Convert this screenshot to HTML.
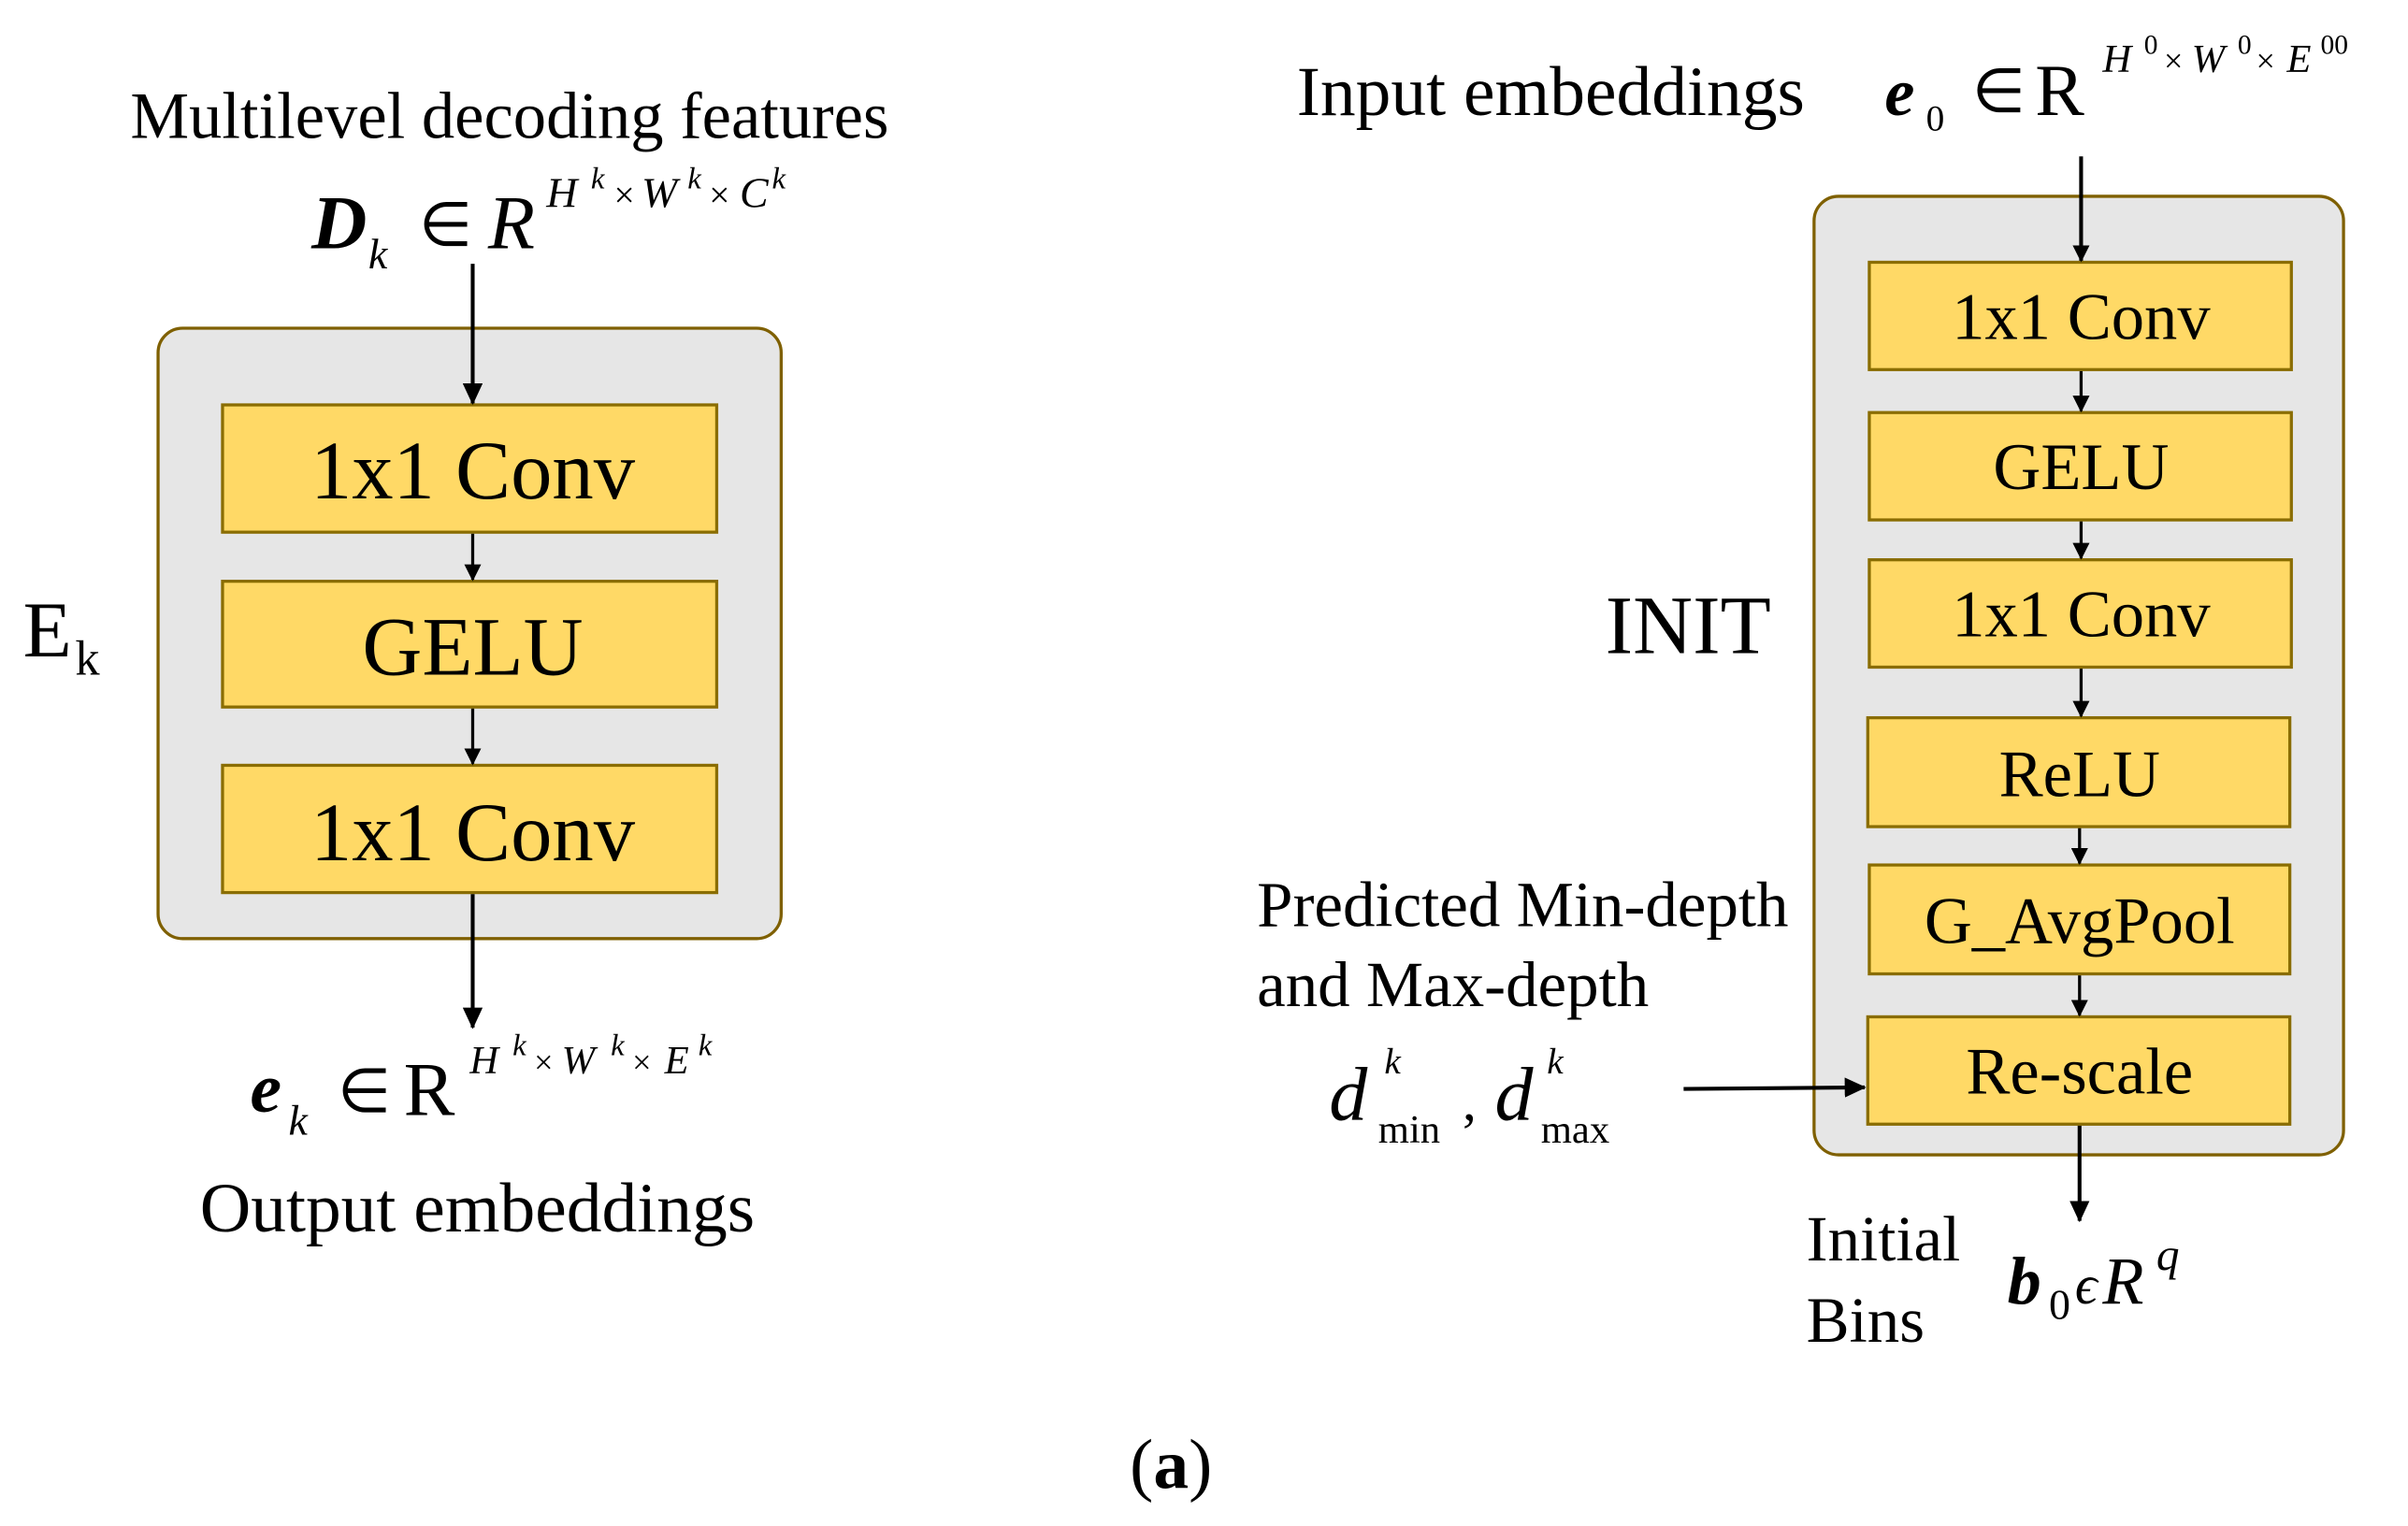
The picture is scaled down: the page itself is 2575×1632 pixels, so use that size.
<!DOCTYPE html>
<html><head><meta charset="utf-8"><style>
html,body{margin:0;padding:0;background:#fff;}
svg{display:block;}
text{font-family:"Liberation Serif",serif;fill:#000;}
</style></head><body>
<svg width="2575" height="1632" viewBox="0 0 1569 995" preserveAspectRatio="none" xmlns="http://www.w3.org/2000/svg">
<defs>
<marker id="ah" markerWidth="11" markerHeight="11" refX="10" refY="5.5" orient="auto" markerUnits="userSpaceOnUse">
<path d="M0,0 L11,5.5 L0,11 z" fill="#000"/>
</marker>
<marker id="ah2" markerWidth="14" markerHeight="13" refX="13" refY="6.5" orient="auto" markerUnits="userSpaceOnUse">
<path d="M0,0 L14,6.5 L0,13 z" fill="#000"/>
</marker>
</defs>

<!-- LEFT PANEL -->
<text x="332" y="90" font-size="43" text-anchor="middle">Multilevel decoding features</text>
<text x="203" y="162" font-size="50" font-style="italic" font-weight="bold">D</text>
<text x="240" y="175" font-size="28" font-style="italic">k</text>
<text x="273" y="160" font-size="40">∈</text>
<text x="318" y="162" font-size="50" font-style="italic">R</text>
<text x="356" y="135" font-size="28" font-style="italic">H</text>
<text x="385" y="123" font-size="20" font-style="italic">k</text>
<text x="400" y="135" font-size="24">×</text>
<text x="418" y="135" font-size="28" font-style="italic">W</text>
<text x="448" y="123" font-size="20" font-style="italic">k</text>
<text x="462" y="135" font-size="24">×</text>
<text x="482" y="135" font-size="28" font-style="italic">C</text>
<text x="503" y="123" font-size="20" font-style="italic">k</text>

<rect x="103" y="214" width="406" height="398" rx="16" fill="#e6e6e6" stroke="#7f6000" stroke-width="2"/>
<rect x="145" y="264" width="322" height="83" fill="#ffd966" stroke="#8a6d00" stroke-width="2"/>
<rect x="145" y="379" width="322" height="82" fill="#ffd966" stroke="#8a6d00" stroke-width="2"/>
<rect x="145" y="499" width="322" height="83" fill="#ffd966" stroke="#8a6d00" stroke-width="2"/>
<text x="308" y="325" font-size="54" text-anchor="middle">1x1 Conv</text>
<text x="308" y="440" font-size="54" text-anchor="middle">GELU</text>
<text x="308" y="561" font-size="54" text-anchor="middle">1x1 Conv</text>
<line x1="308" y1="172" x2="308" y2="263" stroke="#000" stroke-width="2.5" marker-end="url(#ah2)"/>
<line x1="308" y1="348" x2="308" y2="378" stroke="#000" stroke-width="2" marker-end="url(#ah)"/>
<line x1="308" y1="462" x2="308" y2="498" stroke="#000" stroke-width="2" marker-end="url(#ah)"/>
<line x1="308" y1="583" x2="308" y2="670" stroke="#000" stroke-width="2.5" marker-end="url(#ah2)"/>

<text x="15" y="428" font-size="52">E</text>
<text x="49" y="440" font-size="32">k</text>

<text x="163" y="725" font-size="46" font-style="italic" font-weight="bold">e</text>
<text x="188" y="740" font-size="28" font-style="italic">k</text>
<text x="220" y="725" font-size="40">∈</text>
<text x="263" y="727" font-size="50">R</text>
<text x="306" y="700" font-size="26" font-style="italic">H</text>
<text x="334" y="688" font-size="20" font-style="italic">k</text>
<text x="348" y="700" font-size="22">×</text>
<text x="366" y="700" font-size="26" font-style="italic">W</text>
<text x="398" y="688" font-size="20" font-style="italic">k</text>
<text x="412" y="700" font-size="22">×</text>
<text x="433" y="700" font-size="26" font-style="italic">E</text>
<text x="455" y="688" font-size="20" font-style="italic">k</text>

<text x="311" y="803" font-size="46" text-anchor="middle">Output embeddings</text>

<!-- RIGHT PANEL -->
<text x="845" y="75" font-size="46">Input embeddings</text>
<text x="1228" y="75" font-size="44" font-style="italic" font-weight="bold">e</text>
<text x="1255" y="85" font-size="24">0</text>
<text x="1285" y="73" font-size="40">∈</text>
<text x="1326" y="75" font-size="48">R</text>
<text x="1370" y="47" font-size="26" font-style="italic">H</text>
<text x="1397" y="35" font-size="18">0</text>
<text x="1410" y="47" font-size="22">×</text>
<text x="1428" y="47" font-size="26" font-style="italic">W</text>
<text x="1458" y="35" font-size="18">0</text>
<text x="1470" y="47" font-size="22">×</text>
<text x="1490" y="47" font-size="26" font-style="italic">E</text>
<text x="1512" y="35" font-size="18">00</text>

<rect x="1182" y="128" width="345" height="625" rx="16" fill="#e6e6e6" stroke="#7f6000" stroke-width="2"/>

<rect x="1218" y="171" width="275" height="70" fill="#ffd966" stroke="#8a6d00" stroke-width="2"/>
<rect x="1218" y="269" width="275" height="70" fill="#ffd966" stroke="#8a6d00" stroke-width="2"/>
<rect x="1218" y="365" width="275" height="70" fill="#ffd966" stroke="#8a6d00" stroke-width="2"/>
<rect x="1217" y="468" width="275" height="71" fill="#ffd966" stroke="#8a6d00" stroke-width="2"/>
<rect x="1218" y="564" width="274" height="71" fill="#ffd966" stroke="#8a6d00" stroke-width="2"/>
<rect x="1217" y="663" width="275" height="70" fill="#ffd966" stroke="#8a6d00" stroke-width="2"/>
<text x="1356" y="221" font-size="43" text-anchor="middle">1x1 Conv</text>
<text x="1356" y="319" font-size="43" text-anchor="middle">GELU</text>
<text x="1356" y="415" font-size="43" text-anchor="middle">1x1 Conv</text>
<text x="1355" y="519" font-size="43" text-anchor="middle">ReLU</text>
<text x="1355" y="615" font-size="43" text-anchor="middle">G_AvgPool</text>
<text x="1355" y="713" font-size="43" text-anchor="middle">Re-scale</text>
<line x1="1356" y1="102" x2="1356" y2="170" stroke="#000" stroke-width="2.5" marker-end="url(#ah)"/>
<line x1="1356" y1="242" x2="1356" y2="268" stroke="#000" stroke-width="2" marker-end="url(#ah)"/>
<line x1="1356" y1="340" x2="1356" y2="364" stroke="#000" stroke-width="2" marker-end="url(#ah)"/>
<line x1="1356" y1="436" x2="1356" y2="467" stroke="#000" stroke-width="2" marker-end="url(#ah)"/>
<line x1="1355" y1="540" x2="1355" y2="563" stroke="#000" stroke-width="2" marker-end="url(#ah)"/>
<line x1="1355" y1="636" x2="1355" y2="662" stroke="#000" stroke-width="2" marker-end="url(#ah)"/>
<line x1="1355" y1="734" x2="1355" y2="796" stroke="#000" stroke-width="2.5" marker-end="url(#ah2)"/>

<text x="1046" y="426" font-size="54">INIT</text>

<text x="819" y="604" font-size="42">Predicted Min-depth</text>
<text x="819" y="656" font-size="42">and Max-depth</text>
<text x="866" y="730" font-size="50" font-style="italic">d</text>
<text x="902" y="700" font-size="24" font-style="italic">k</text>
<text x="898" y="745" font-size="26">min</text>
<text x="953" y="730" font-size="36">,</text>
<text x="974" y="730" font-size="50" font-style="italic">d</text>
<text x="1008" y="700" font-size="24" font-style="italic">k</text>
<text x="1004" y="745" font-size="26">max</text>
<line x1="1097" y1="710" x2="1215" y2="709" stroke="#000" stroke-width="2.5" marker-end="url(#ah2)"/>

<text x="1177" y="822" font-size="42">Initial</text>
<text x="1177" y="875" font-size="42">Bins</text>
<text x="1308" y="850" font-size="44" font-style="italic" font-weight="bold">b</text>
<text x="1335" y="860" font-size="28">0</text>
<text x="1352" y="850" font-size="36" font-style="italic">ϵ</text>
<text x="1370" y="850" font-size="44" font-style="italic">R</text>
<text x="1405" y="828" font-size="30" font-style="italic">q</text>

<text x="763" y="970" font-size="46" text-anchor="middle">(<tspan font-weight="bold">a</tspan>)</text>
</svg>
</body></html>
